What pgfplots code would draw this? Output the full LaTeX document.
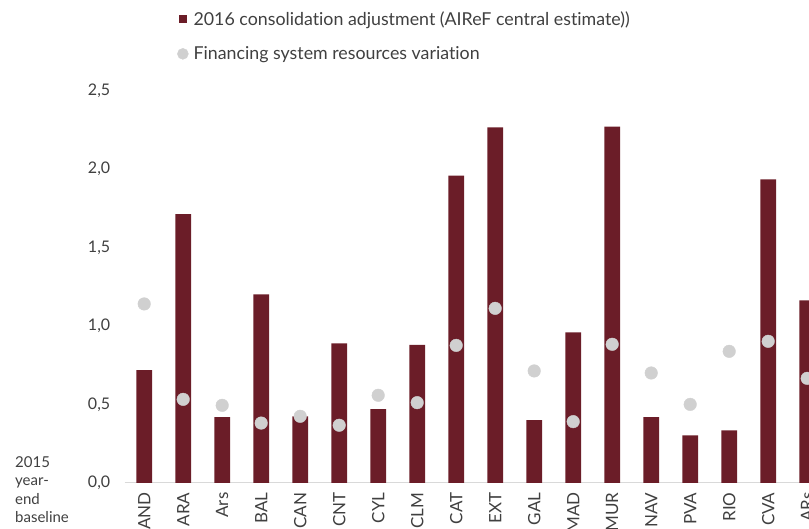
\documentclass[border=0pt]{standalone}
\usepackage{fontspec}
\setmainfont{Lato}[Ligatures={NoCommon}]
\usepackage{pgfplots}
\usepackage{pgfplotstable}
\pgfplotsset{compat=1.18}
\definecolor{barred}{RGB}{107,29,40}
\definecolor{dotgray}{RGB}{208,208,208}
\definecolor{txt}{RGB}{64,64,64}
\definecolor{axgray}{RGB}{217,217,217}
\pgfplotstableread{
x y d
0 0.720 1.141
1 1.714 0.533
2 0.419 0.495
3 1.202 0.382
4 0.425 0.425
5 0.890 0.368
6 0.470 0.559
7 0.880 0.512
8 1.959 0.877
9 2.267 1.113
10 0.400 0.714
11 0.960 0.391
12 2.271 0.884
13 0.419 0.701
14 0.304 0.501
15 0.336 0.839
16 1.935 0.903
17 1.164 0.667
}\data
\begin{document}
\begin{tikzpicture}
\begin{axis}[
  x=39pt, y=156.92pt,
  xmin=-0.5, xmax=17.046, ymin=0, ymax=2.5,
  axis x line=bottom, axis y line=left,
  x axis line style={-, draw=axgray, line width=1pt},
  y axis line style={draw=none},
  xtick={0,...,17},
  xticklabels={AND,ARA,Ars,BAL,CAN,CNT,CYL,CLM,CAT,EXT,GAL,MAD,MUR,NAV,PVA,RIO,CVA,ARs},
  ytick={0,0.5,1,1.5,2,2.5},
  major tick length=0pt,
  tick style={draw=none},
  xticklabel shift=6pt,
  yticklabel shift=11pt,
  xticklabel style={rotate=90, anchor=east, font=\fontsize{17}{19}\selectfont, text=txt},
  yticklabel style={font=\fontsize{16}{19}\selectfont, text=txt},
  /pgf/number format/.cd, use comma, fixed, fixed zerofill, precision=1, assume math mode=true,
  /pgfplots/.cd,
  legend cell align=left,
  legend style={at={(rel axis cs:0.0764,1.208)}, anchor=north west, draw=none, fill=none,
    font=\fontsize{17.8}{19}\selectfont, text=txt, row sep=16pt, column sep=3pt, inner sep=0pt},
]
\coordinate (O) at (axis cs:-0.5,0);
\addplot[ybar, bar width=15.7pt, fill=barred, draw=none,
  legend image code/.code={\fill[barred] (0pt,-4pt) rectangle (8pt,4pt);}]
  table[x=x,y=y]{\data};
\addlegendentry{2016 consolidation adjustment (AIReF central estimate))}
\addplot[only marks, mark=*, mark size=6.3pt, color=dotgray,
  legend image code/.code={\fill[dotgray] (4pt,0pt) circle (5.5pt);}]
  table[x=x,y=d]{\data};
\addlegendentry{Financing system resources variation}
\end{axis}
\node[anchor=north west, align=left, font=\fontsize{15}{18.5}\selectfont, text=txt, inner sep=0pt]
  at ([shift={(-109.7pt,27pt)}]O) {2015\\year-\\end\\baseline};
\pgfresetboundingbox
\path[use as bounding box] ([shift={(-124.7pt,-46pt)}]O) rectangle ([shift={(684.3pt,483pt)}]O);
\end{tikzpicture}
\end{document}
